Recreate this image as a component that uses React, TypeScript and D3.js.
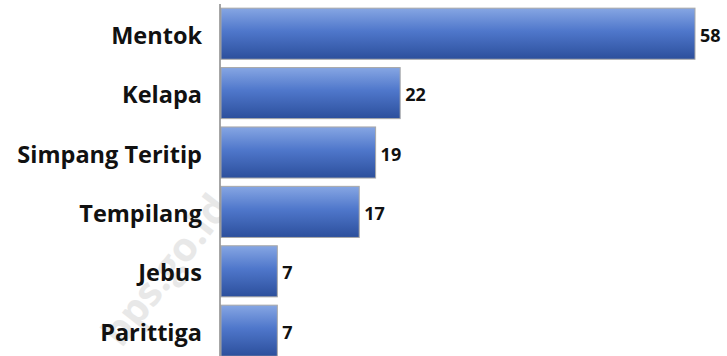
import React from "react";
import * as d3 from "d3";

const categories = ["Mentok", "Kelapa", "Simpang Teritip", "Tempilang", "Jebus", "Parittiga"];
const values = [58, 22, 19, 17, 7, 7];

const W = 727;
const H = 356;

export default function App() {
  const x0 = 220;
  const x = d3.scaleLinear().domain([0, 58]).range([x0, 695]);
  const y = d3
    .scaleBand<string>()
    .domain(categories)
    .range([4, 360.4])
    .paddingInner(0.14)
    .paddingOuter(0.07);
  const font = "'Open Sans', Lato, sans-serif";
  return (
    <svg
      width={W}
      height={H}
      style={{ position: "absolute", left: 0, top: 0, background: "#fff" }}
    >
      <defs>
        <linearGradient id="barGrad" x1="0" y1="0" x2="0" y2="1">
          <stop offset="0%" stopColor="#86a6e3" />
          <stop offset="45%" stopColor="#4f77cb" />
          <stop offset="100%" stopColor="#2c4f9c" />
        </linearGradient>
      </defs>
      <text
        transform="translate(168,272) rotate(-52)"
        textAnchor="middle"
        dominantBaseline="middle"
        fontFamily={font}
        fontWeight="bold"
        fontSize={40}
        fill="#e8e8e8"
      >
        bps.go.id
      </text>
      {categories.map((c, i) => {
        const yy = y(c)!;
        const bw = y.bandwidth();
        return (
          <g key={c}>
            <rect
              x={x0 + 1}
              y={yy}
              width={x(values[i]) - x0 - 1}
              height={bw}
              fill="url(#barGrad)"
              stroke="#a8a8a8"
              strokeWidth={1}
            />
            <text
              x={x(values[i]) + 5}
              y={yy + bw / 2 + 1}
              dominantBaseline="central"
              fontFamily={font}
              fontWeight="bold"
              fontSize={18}
              fill="#111"
            >
              {values[i]}
            </text>
            <text
              x={202}
              y={yy + bw / 2 + 1}
              dominantBaseline="central"
              textAnchor="end"
              fontFamily={font}
              fontWeight="bold"
              fontSize={23.5}
              fill="#111"
            >
              {c}
            </text>
          </g>
        );
      })}
      <line x1={x0} x2={x0} y1={4} y2={H} stroke="#888" strokeWidth={1.5} />
    </svg>
  );
}
